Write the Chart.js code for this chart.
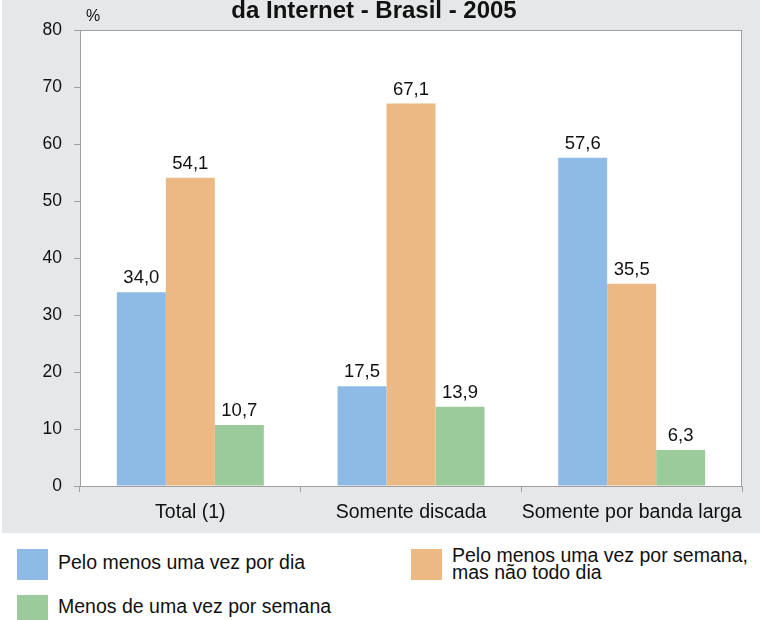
<!DOCTYPE html>
<html>
<head>
<meta charset="utf-8">
<script src="https://cdn.jsdelivr.net/npm/chart.js@4"></script>
<style>
  body { margin: 0; background: #fff; font-family: "Liberation Sans", Arial, sans-serif; }
  #wrap { position: relative; width: 760px; height: 620px; overflow: hidden; }
  #fundo { position: absolute; left: 2px; top: 0; width: 758px; height: 533px; background: #e6e7e8; }
  #graph { position: absolute; left: 0; top: 0; }
  .item { position: absolute; font-size: 19.5px; color: #111; line-height: 17px; white-space: nowrap; }
  .caixa { position: absolute; width: 31px; height: 31px; }
</style>
</head>
<body>
<div id="wrap">
  <div id="fundo"></div>
  <canvas id="graph" width="760" height="533"></canvas>
  <div class="caixa" style="left:17px;top:549px;background:#8ebbe5"></div>
  <div class="item" style="left:58px;top:554px">Pelo menos uma vez por dia</div>
  <div class="caixa" style="left:411px;top:549px;background:#ecb984"></div>
  <div class="item" style="left:452px;top:547px">Pelo menos uma vez por semana,<br>mas não todo dia</div>
  <div class="caixa" style="left:17px;top:595px;background:#9bca9b"></div>
  <div class="item" style="left:58px;top:598px">Menos de uma vez por semana</div>
</div>
<script>
// Dados do gráfico
const categorias = ['Total (1)', 'Somente discada', 'Somente por banda larga'];
const porDia = [34.0, 17.5, 57.6];
const porSemana = [54.1, 67.1, 35.5];
const menosSemana = [10.7, 13.9, 6.3];
const ticksY = [0, 10, 20, 30, 40, 50, 60, 70, 80];

const fonte = "'Liberation Sans', Arial, sans-serif";
const cinza = '#a0a0a0';

// fundo branco da área do gráfico + borda, título e "%"
const areaBranca = {
    id: 'areaBranca',
    beforeDraw(chart) {
        const { ctx, chartArea: a } = chart;
        ctx.save();
        ctx.fillStyle = '#fff';
        ctx.fillRect(a.left, a.top, a.right - a.left, a.bottom - a.top);
        ctx.strokeStyle = cinza;
        ctx.lineWidth = 1;
        ctx.strokeRect(a.left + 0.5, a.top + 0.5, a.right - a.left - 1, a.bottom - a.top);
        ctx.restore();
    },
    afterDraw(chart) {
        const { ctx, chartArea: a } = chart;
        ctx.save();
        ctx.fillStyle = '#111';
        ctx.font = 'bold 24px ' + fonte;
        ctx.textAlign = 'center';
        ctx.textBaseline = 'alphabetic';
        ctx.fillText('da Internet - Brasil - 2005', 374, 18);
        ctx.font = '16px ' + fonte;
        ctx.fillText('%', a.left + 13, 21);
        ctx.restore();
    }
};

// valores em cima das barras
const rotulos = {
    id: 'rotulos',
    afterDatasetsDraw(chart) {
        const ctx = chart.ctx;
        ctx.save();
        ctx.fillStyle = '#111';
        ctx.font = '18.5px ' + fonte;
        ctx.textAlign = 'center';
        ctx.textBaseline = 'alphabetic';
        chart.data.datasets.forEach((ds, i) => {
            chart.getDatasetMeta(i).data.forEach((el, j) => {
                ctx.fillText(ds.data[j].toFixed(1).replace('.', ','), el.x, el.y - 9);
            });
        });
        ctx.restore();
    }
};

const data = {
    labels: categorias,
    datasets: [
        { label: 'Pelo menos uma vez por dia', data: porDia, backgroundColor: '#8ebbe5' },
        { label: 'Pelo menos uma vez por semana, mas não todo dia', data: porSemana, backgroundColor: '#ecb984' },
        { label: 'Menos de uma vez por semana', data: menosSemana, backgroundColor: '#9bca9b' }
    ]
};

const config = {
    type: 'bar',
    data: data,
    options: {
        responsive: false,
        animation: false,
        devicePixelRatio: 1,
        categoryPercentage: 0.666,
        barPercentage: 1.0,
        layout: { padding: { top: 30, right: 18, left: 0, bottom: 0 } },
        plugins: { legend: { display: false }, tooltip: { enabled: false } },
        scales: {
            x: {
                afterFit: s => { s.height = 47; },
                grid: { drawOnChartArea: false, tickLength: 6, color: cinza, offset: true },
                border: { color: cinza },
                ticks: {
                    color: '#111', font: { family: fonte, size: 19.5 }, padding: 9,
                    maxRotation: 0, minRotation: 0, autoSkip: false
                }
            },
            y: {
                min: 0,
                max: 80,
                afterFit: s => { s.width = 80; },
                afterBuildTicks: s => { s.ticks = ticksY.map(v => ({ value: v })); },
                grid: { drawOnChartArea: false, tickLength: 6, color: cinza },
                border: { color: cinza },
                ticks: { color: '#111', font: { family: fonte, size: 17.5 }, padding: 12 }
            }
        }
    },
    plugins: [areaBranca, rotulos]
};

const myChart = new Chart(document.getElementById('graph').getContext('2d'), config);
</script>
</body>
</html>
